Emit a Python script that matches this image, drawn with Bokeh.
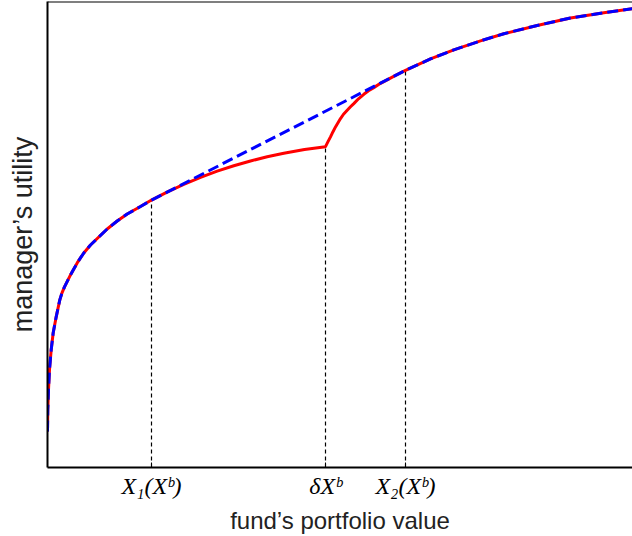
from bokeh.plotting import figure
from bokeh.models import Range1d, FixedTicker, Span
from bokeh.embed import file_html
from bokeh.resources import INLINE

# fund's portfolio value (arbitrary units) and manager's utility
red_x = [0.000, 0.003, 0.010, 0.020, 0.037, 0.057, 0.087, 0.123, 0.145, 0.170, 0.200, 0.230,
         0.263, 0.297, 0.330, 0.363, 0.430, 0.513, 0.597, 0.697, 0.797, 0.930, 1.040,
         1.200, 1.363, 1.530, 1.697, 1.863, 2.030, 2.197, 2.363, 2.570, 2.780,
         2.805, 2.830, 2.855, 2.880, 2.905, 2.930, 2.960, 2.997, 3.030, 3.063, 3.110,
         3.163, 3.210, 3.263, 3.330, 3.397, 3.480, 3.580,
         3.830, 4.063, 4.330, 4.563, 4.897, 5.230, 5.563, 5.850]
red_y = [0.36, 0.58, 0.78, 0.98, 1.18, 1.35, 1.51, 1.68, 1.75, 1.81, 1.87, 1.93,
         1.99, 2.05, 2.10, 2.15, 2.23, 2.31, 2.39, 2.47, 2.54, 2.615, 2.68,
         2.762, 2.838, 2.907, 2.97, 3.024, 3.072, 3.114, 3.15, 3.187, 3.215,
         3.265, 3.313, 3.365, 3.413, 3.455, 3.497, 3.54, 3.58, 3.615, 3.647, 3.695,
         3.74, 3.775, 3.807, 3.85, 3.885, 3.93, 3.98,
         4.095, 4.185, 4.275, 4.347, 4.43, 4.505, 4.557, 4.597]

# key points: X1(X^b), delta X^b, X2(X^b)
tick_x = [1.04, 2.78, 3.58]
tick_y = [2.68, 3.215, 3.98]
tick_labels = ["X\u2081(X\u1d47)", "\u03b4X\u1d47", "X\u2082(X\u1d47)"]

# concave envelope: the curve up to X1, a straight line to X2, the curve after X2
i1 = red_x.index(tick_x[0])
i2 = red_x.index(tick_x[2])
env_x = red_x[:i1 + 1] + red_x[i2:]
env_y = red_y[:i1 + 1] + red_y[i2:]

p = figure(width=632, height=536, output_backend="svg", toolbar_location=None,
           x_range=Range1d(0, 5.85), y_range=Range1d(0, 4.67),
           min_border_left=47, min_border_right=0, min_border_top=1, min_border_bottom=68)
p.outline_line_color = None
p.xgrid.visible = False
p.ygrid.visible = False
p.background_fill_color = "white"
p.border_fill_color = "white"

p.add_layout(Span(location=4.67, dimension="width", line_color="black", line_width=2))

p.segment(x0=tick_x, y0=[0, 0, 0], x1=tick_x, y1=tick_y,
          line_color="black", line_width=1.2, line_dash="4 3")
p.line(red_x, red_y, line_color="#ff0000", line_width=3, line_join="round")
p.line(env_x, env_y, line_color="#0000ff", line_width=3, line_dash="11 5")

xa = p.xaxis[0]
xa.ticker = FixedTicker(ticks=tick_x)
xa.major_label_overrides = {t: l for t, l in zip(tick_x, tick_labels)}
xa.major_label_text_font = "Liberation Serif"
xa.major_label_text_font_style = "italic"
xa.major_label_text_font_size = "24px"
xa.major_label_text_color = "black"
xa.major_label_standoff = 5
xa.major_tick_in = 5
xa.major_tick_out = 0
xa.minor_tick_line_color = None
xa.axis_line_width = 2
xa.axis_line_color = "black"
xa.axis_label = "fund\u2019s portfolio value"
xa.axis_label_text_font = "Liberation Sans"
xa.axis_label_text_font_style = "normal"
xa.axis_label_text_font_size = "24px"
xa.axis_label_text_color = "#222222"
xa.axis_label_standoff = 5

ya = p.yaxis[0]
ya.ticker = FixedTicker(ticks=[])
ya.major_tick_line_color = None
ya.minor_tick_line_color = None
ya.major_label_text_font_size = "0px"
ya.axis_line_width = 2
ya.axis_line_color = "black"
ya.axis_label = "manager\u2019s utility"
ya.axis_label_text_font = "Liberation Sans"
ya.axis_label_text_font_style = "normal"
ya.axis_label_text_font_size = "27px"
ya.axis_label_text_color = "#222222"
ya.axis_label_standoff = 10

open("out.html", "w").write(file_html(p, INLINE))
